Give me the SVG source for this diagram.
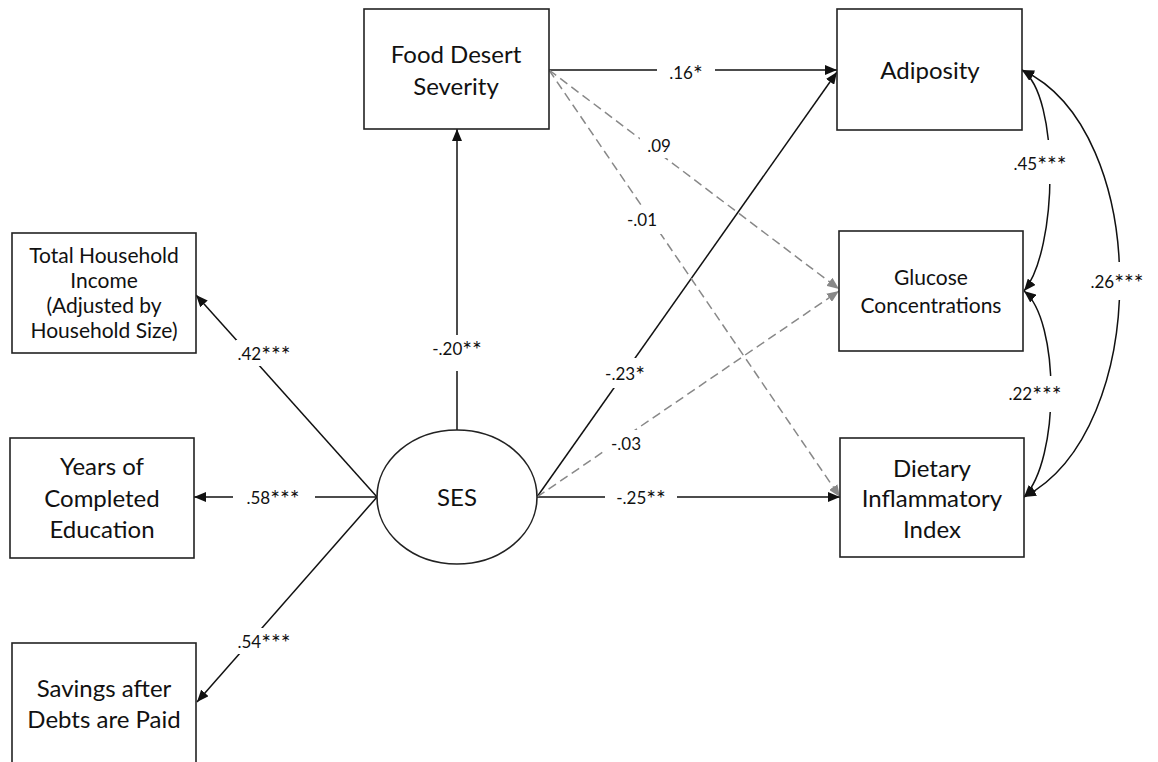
<svg xmlns="http://www.w3.org/2000/svg" width="1158" height="762" viewBox="0 0 1158 762">
<style>
.box{fill:#fff;stroke:#222;stroke-width:1.6}
.t{font-family:Lato,"Open Sans",sans-serif;fill:#111;text-anchor:middle}
.big{font-size:24px}
.med{font-size:21px}
.lab{font-family:Lato,"Open Sans",sans-serif;font-size:17px;fill:#111;text-anchor:middle}
.s{font-size:23px}
.ln{fill:none;stroke:#111;stroke-width:1.5}
.dash{fill:none;stroke:#888;stroke-width:1.5;stroke-dasharray:9,5}
.bg{fill:#fff}
</style>
<defs>
<marker id="ab" viewBox="0 0 12 10" refX="12" refY="5" markerWidth="12" markerHeight="10" markerUnits="userSpaceOnUse" orient="auto-start-reverse"><path d="M0,0 L12,5 L0,10 z" fill="#111"/></marker>
<marker id="ag" viewBox="0 0 12 10" refX="12" refY="5" markerWidth="12" markerHeight="10" markerUnits="userSpaceOnUse" orient="auto"><path d="M0,0 L12,5 L0,10 z" fill="#888"/></marker>
</defs>
<rect width="1158" height="762" fill="#fff"/>
<g id="connectors">
<line class="ln" x1="377" y1="497" x2="196" y2="295" marker-end="url(#ab)"/>
<line class="ln" x1="377" y1="497" x2="194" y2="497" marker-end="url(#ab)"/>
<line class="ln" x1="377" y1="497" x2="197" y2="702" marker-end="url(#ab)"/>
<line class="ln" x1="457" y1="430" x2="457" y2="129" marker-end="url(#ab)"/>
<line class="ln" x1="549" y1="70" x2="837" y2="70" marker-end="url(#ab)"/>
<line class="ln" x1="537" y1="497" x2="837" y2="72" marker-end="url(#ab)"/>
<line class="ln" x1="537" y1="497" x2="840" y2="497" marker-end="url(#ab)"/>
<line class="dash" x1="537" y1="497" x2="839" y2="291" marker-end="url(#ag)"/>
<line class="dash" x1="549" y1="70" x2="839" y2="289" marker-end="url(#ag)"/>
<line class="dash" x1="549" y1="70" x2="840" y2="497" marker-end="url(#ag)"/>
<path class="ln" d="M1022,70 C1060,95 1058,250 1024,291" marker-start="url(#ab)" marker-end="url(#ab)"/>
<path class="ln" d="M1024,291 C1060,320 1060,460 1024,497" marker-start="url(#ab)" marker-end="url(#ab)"/>
<path class="ln" d="M1022,70 C1152,130 1152,430 1024,497" marker-start="url(#ab)" marker-end="url(#ab)"/>
<rect class="bg" x="236" y="340" width="56" height="26"/>
<text class="lab" x="264" y="360">.42<tspan class="s" dy="3">***</tspan></text>
<rect class="bg" x="233" y="484" width="82" height="26"/>
<text class="lab" x="273" y="504">.58<tspan class="s" dy="3">***</tspan></text>
<rect class="bg" x="234" y="628" width="60" height="26"/>
<text class="lab" x="264" y="648">.54<tspan class="s" dy="3">***</tspan></text>
<rect class="bg" x="426" y="335" width="62" height="36"/>
<text class="lab" x="457" y="355">-.20<tspan class="s" dy="3">**</tspan></text>
<rect class="bg" x="657" y="58" width="58" height="26"/>
<text class="lab" x="686" y="79">.16<tspan class="s" dy="3">*</tspan></text>
<rect class="bg" x="598" y="358" width="54" height="30"/>
<text class="lab" x="625" y="380">-.23<tspan class="s" dy="3">*</tspan></text>
<rect class="bg" x="605" y="484" width="72" height="26"/>
<text class="lab" x="641" y="504">-.25<tspan class="s" dy="3">**</tspan></text>
<rect class="bg" x="604" y="430" width="42" height="26"/>
<text class="lab" x="626" y="450">-.03</text>
<rect class="bg" x="640" y="134" width="38" height="24"/>
<text class="lab" x="659" y="152">.09</text>
<rect class="bg" x="620" y="206" width="44" height="28"/>
<text class="lab" x="642" y="226">-.01</text>
<rect class="bg" x="1010" y="140" width="60" height="44"/>
<text class="lab" x="1040" y="170">.45<tspan class="s" dy="3">***</tspan></text>
<rect class="bg" x="1005" y="376" width="60" height="36"/>
<text class="lab" x="1035" y="400">.22<tspan class="s" dy="3">***</tspan></text>
<rect class="bg" x="1087" y="262" width="60" height="38"/>
<text class="lab" x="1117" y="288">.26<tspan class="s" dy="3">***</tspan></text>
</g>
<g id="food">
<rect class="box" x="364" y="9" width="185" height="120"/>
<text class="t big" x="456" y="63">Food Desert</text>
<text class="t big" x="456" y="95">Severity</text>
</g>
<g id="adiposity">
<rect class="box" x="837" y="9" width="185" height="121"/>
<text class="t big" x="930" y="79">Adiposity</text>
</g>
<g id="glucose">
<rect class="box" x="839" y="231" width="184" height="120"/>
<text class="t med" x="931" y="285">Glucose</text>
<text class="t med" x="931" y="313">Concentrations</text>
</g>
<g id="dietary">
<rect class="box" x="840" y="438" width="184" height="119"/>
<text class="t big" x="932" y="477">Dietary</text>
<text class="t big" x="932" y="507">Inflammatory</text>
<text class="t big" x="932" y="538">Index</text>
</g>
<g id="income">
<rect class="box" x="12" y="233" width="184" height="120"/>
<text class="t med" x="104" y="263">Total Household</text>
<text class="t med" x="104" y="288">Income</text>
<text class="t med" x="104" y="313">(Adjusted by</text>
<text class="t med" x="104" y="338">Household Size)</text>
</g>
<g id="education">
<rect class="box" x="10" y="438" width="184" height="120"/>
<text class="t big" x="102" y="475">Years of</text>
<text class="t big" x="102" y="507">Completed</text>
<text class="t big" x="102" y="538">Education</text>
</g>
<g id="savings">
<rect class="box" x="12" y="643" width="184" height="130"/>
<text class="t big" x="104" y="697">Savings after</text>
<text class="t big" x="104" y="728">Debts are Paid</text>
</g>
<g id="ses">
<ellipse cx="457" cy="497" rx="80" ry="67" fill="#fff" stroke="#222" stroke-width="1.6"/>
<text class="t big" x="457" y="506">SES</text>
</g>
</svg>
